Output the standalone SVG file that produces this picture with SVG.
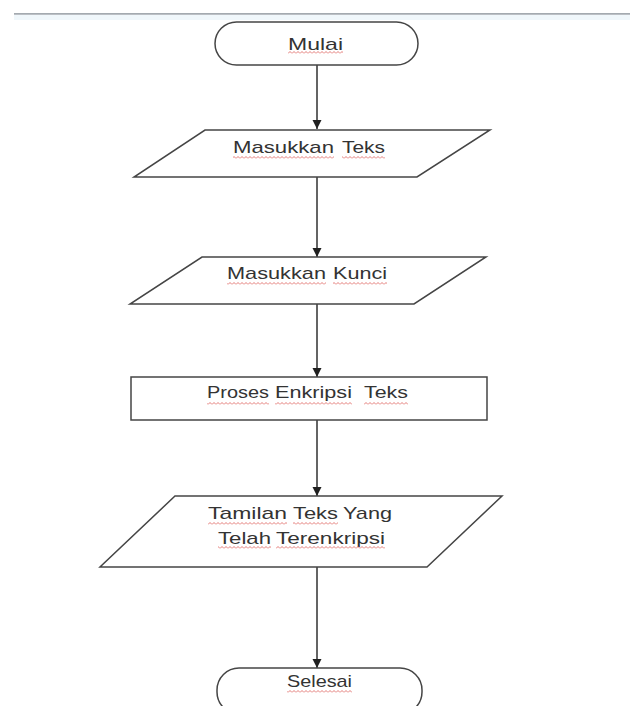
<svg xmlns="http://www.w3.org/2000/svg" width="630" height="706" viewBox="0 0 630 706">
<style>
.shape{fill:#ffffff;stroke:#454545;stroke-width:1.5}
.conn{stroke:#303030;stroke-width:1.5;fill:none}
.lbl{font-family:"Liberation Sans",Arial,sans-serif;font-size:17px;fill:#333333}
.wave{fill:url(#wave)}
</style>
<defs>
<marker id="arr" markerUnits="userSpaceOnUse" markerWidth="10" markerHeight="10" refX="9" refY="5" orient="auto">
<path d="M0,0.5 L9,5 L0,9.5 Z" fill="#202020"/>
</marker>
<pattern id="wave" patternUnits="userSpaceOnUse" x="0" y="0" width="4" height="3">
<polyline points="0,2.5 2,0.5 4,2.5" fill="none" stroke="#dc5a55" stroke-width="0.8"/>
</pattern>
</defs>
<rect x="0" y="0" width="630" height="706" fill="#ffffff"/>
<rect x="14" y="15" width="616" height="5" fill="#f0f7fb"/>
<line x1="14" y1="13.8" x2="630" y2="13.8" stroke="#a4aab0" stroke-width="1.8"/>

<g id="connectors">
<line class="conn" x1="317" y1="65" x2="317" y2="129" marker-end="url(#arr)"/>
<line class="conn" x1="317" y1="177" x2="317" y2="257" marker-end="url(#arr)"/>
<line class="conn" x1="317" y1="304" x2="317" y2="377" marker-end="url(#arr)"/>
<line class="conn" x1="317" y1="420" x2="317" y2="496" marker-end="url(#arr)"/>
<line class="conn" x1="317" y1="567" x2="317" y2="668" marker-end="url(#arr)"/>
</g>

<g id="mulai">
<rect class="shape" x="215" y="22" width="203" height="43" rx="21.5"/>
<text class="lbl" x="288" y="50" textLength="55" lengthAdjust="spacingAndGlyphs">Mulai</text>
<rect class="wave" x="288" y="51" width="55" height="3"/>
</g>

<g id="masukkan-teks">
<polygon class="shape" points="205,130 490,130 417,177 134,177"/>
<text class="lbl" x="233" y="153" textLength="101" lengthAdjust="spacingAndGlyphs">Masukkan</text>
<text class="lbl" x="342" y="153" textLength="43" lengthAdjust="spacingAndGlyphs">Teks</text>
<rect class="wave" x="233" y="156" width="101" height="3"/>
<rect class="wave" x="342" y="156" width="43" height="3"/>
</g>

<g id="masukkan-kunci">
<polygon class="shape" points="202,257 486,257 414,304 130,304"/>
<text class="lbl" x="227" y="279" textLength="99" lengthAdjust="spacingAndGlyphs">Masukkan</text>
<text class="lbl" x="333" y="279" textLength="54" lengthAdjust="spacingAndGlyphs">Kunci</text>
<rect class="wave" x="227" y="282" width="99" height="3"/>
<rect class="wave" x="333" y="282" width="54" height="3"/>
</g>

<g id="proses">
<rect class="shape" x="131" y="377" width="356" height="43"/>
<text class="lbl" x="207" y="398" textLength="62" lengthAdjust="spacingAndGlyphs">Proses</text>
<text class="lbl" x="275" y="398" textLength="77" lengthAdjust="spacingAndGlyphs">Enkripsi</text>
<text class="lbl" x="364" y="398" textLength="44" lengthAdjust="spacingAndGlyphs">Teks</text>
<rect class="wave" x="207" y="402" width="62" height="3"/>
<rect class="wave" x="275" y="402" width="77" height="3"/>
<rect class="wave" x="364" y="402" width="44" height="3"/>
</g>

<g id="tampilan">
<polygon class="shape" points="175,496 502,496 427,567 100,567"/>
<text class="lbl" x="208" y="519" textLength="79" lengthAdjust="spacingAndGlyphs">Tamilan</text>
<text class="lbl" x="293" y="519" textLength="45" lengthAdjust="spacingAndGlyphs">Teks</text>
<text class="lbl" x="343" y="519" textLength="49" lengthAdjust="spacingAndGlyphs">Yang</text>
<rect class="wave" x="208" y="522" width="79" height="3"/>
<rect class="wave" x="293" y="522" width="45" height="3"/>
<text class="lbl" x="218" y="544" textLength="53" lengthAdjust="spacingAndGlyphs">Telah</text>
<text class="lbl" x="276" y="544" textLength="109" lengthAdjust="spacingAndGlyphs">Terenkripsi</text>
<rect class="wave" x="218" y="546" width="53" height="3"/>
<rect class="wave" x="276" y="546" width="109" height="3"/>
</g>

<g id="selesai">
<rect class="shape" x="217" y="668" width="205" height="46" rx="22"/>
<text class="lbl" x="287" y="687" textLength="65" lengthAdjust="spacingAndGlyphs">Selesai</text>
<rect class="wave" x="287" y="690" width="65" height="3"/>
</g>
</svg>
